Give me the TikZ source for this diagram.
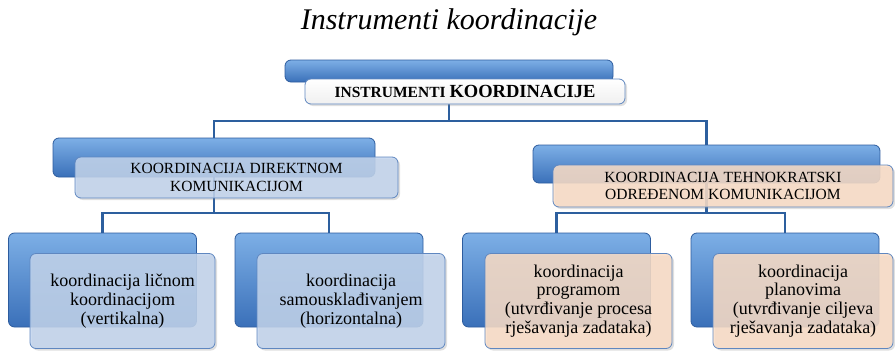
\documentclass[tikz,border=0pt]{standalone}
\usepackage{fontspec}
\setmainfont{Liberation Serif}
\usetikzlibrary{shadows, backgrounds}

\definecolor{boxblue}{RGB}{58,112,185}
\definecolor{boxbluetop}{RGB}{125,175,230}
\definecolor{boxbluemid}{RGB}{80,138,210}
\definecolor{boxblueedge}{RGB}{45,92,158}
\definecolor{paleblue}{RGB}{194,212,236}
\definecolor{palepeach}{RGB}{250,221,198}
\definecolor{frameblue}{RGB}{95,135,192}
\definecolor{linkblue}{RGB}{45,95,158}

\tikzset{
    backbox/.style={rounded corners=6pt, draw=boxblueedge, thick,
        top color=boxbluetop, middle color=boxbluemid, bottom color=boxblue},
    frontbox/.style={rounded corners=6pt, draw=frameblue, thick, fill=paleblue,
        fill opacity=0.85, text opacity=1, align=center, inner sep=2pt,
        drop shadow={shadow xshift=2pt, shadow yshift=-2pt, opacity=0.25}},
    peach/.style={fill=palepeach},
    midfont/.style={font=\rmfamily\fontsize{15.5}{17.5}\selectfont},
    leaffont/.style={font=\rmfamily\fontsize{18}{18.8}\selectfont},
    link/.style={draw=linkblue, line width=2.8pt}
}

\begin{document}
\begin{tikzpicture}[x=1pt, y=-1pt]
    \useasboundingbox (0,0) rectangle (895,356);

    % naslov
    \node (title) at (449,22) {\fontsize{30}{32}\selectfont\itshape Instrumenti koordinacije};

    % vrh
    \node[backbox, minimum width=328pt, minimum height=22pt] (topB) at (449,71) {};
    \node[frontbox, fill=white, fill opacity=1, top color=white, bottom color=gray!12,
        minimum width=320pt, minimum height=25pt] (topF) at (465,91.5)
        {\bfseries\fontsize{15.5}{17}\selectfont INSTRUMENTI \fontsize{18.5}{20}\selectfont KOORDINACIJE};

    % drugi nivo
    \node[backbox, minimum width=322pt, minimum height=39pt] (dirB) at (214,157.5) {};
    \node[frontbox, midfont, minimum width=323pt, minimum height=41pt] (dirF) at (236.5,177.5)
        {KOORDINACIJA DIREKTNOM\\KOMUNIKACIJOM};

    \node[backbox, minimum width=347pt, minimum height=38pt] (tehB) at (706.5,164) {};
    \node[frontbox, peach, midfont, minimum width=340pt, minimum height=42pt] (tehF) at (723,186)
        {KOORDINACIJA TEHNOKRATSKI\\ODREĐENOM KOMUNIKACIJOM};

    % treci nivo
    \foreach \n/\x/\fx/\w/\c/\t in {
        ll/102.5/122.5/185/paleblue/{koordinacija ličnom\\koordinacijom\\(vertikalna)},
        lr/329/351/188/paleblue/{koordinacija\\samousklađivanjem\\(horizontalna)},
        rl/556.5/578.5/187/palepeach/{koordinacija\\programom\\(utvrđivanje procesa\\rješavanja zadataka)},
        rr/785/803/180/palepeach/{koordinacija\\planovima\\(utvrđivanje ciljeva\\rješavanja zadataka)}} {
        \node[backbox, minimum width=188pt, minimum height=94pt] (\n-back) at (\x,280) {};
        \node[frontbox, leaffont, fill=\c, minimum width=\w pt, minimum height=95pt] (\n-front) at (\fx,301) {\t};
    }

    \coordinate (bus1) at (449,121);
    \coordinate (bus2) at (214,213);
    \coordinate (bus3) at (706.5,213);

    \begin{scope}[on background layer]
        \draw[link] (topB.center) -- (bus1) -| (dirB.north);
        \draw[link] (bus1) -| (tehB.north);
        \draw[link] (dirB.center) -- (bus2) -| (ll-back.north);
        \draw[link] (bus2) -| (lr-back.north);
        \draw[link] (tehB.center) -- (bus3) -| (rl-back.north);
        \draw[link] (bus3) -| (rr-back.north);
    \end{scope}
\end{tikzpicture}
\end{document}
